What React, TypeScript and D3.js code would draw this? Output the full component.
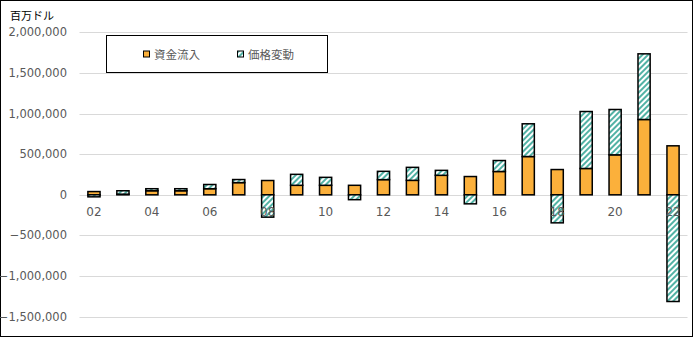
import React from "react";
import * as d3 from "d3";

const years = ["02","03","04","05","06","07","08","09","10","11","12","13","14","15","16","17","18","19","20","21","22"];
const inflow = [40000, 8000, 50000, 50000, 75000, 150000, 176000, 117000, 117000, 117000, 187000, 178000, 240000, 225000, 287000, 471000, 311000, 324000, 492000, 927000, 603000];
const priceChange = [-25000, 42000, 25000, 25000, 52000, 38000, -275000, 135000, 98000, -60000, 102000, 160000, 61000, -111000, 135000, 403000, -345000, 701000, 558000, 808000, -1313000];
const yTicks = [2000000, 1500000, 1000000, 500000, 0, -500000, -1000000, -1500000];
const seriesNames = ["資金流入", "価格変動"];
const unitLabel = "百万ドル";

const W = 693, H = 337;
const plotLeft = 79.5, plotRight = 687.5;
const ORANGE = "#fbb03b";
const TEAL = "#52b2a5";

export default function App() {
  const x = d3.scaleBand<string>().domain(years).range([plotLeft, plotRight]).paddingInner(0.58).paddingOuter(0.29);
  const y = d3.scaleLinear().domain([-1500000, 2000000]).range([316.7, 32.3]);
  const rows = years.map((yr, i) => ({ yr, inflow: inflow[i], price: priceChange[i] }));
  const stack = d3.stack<any>().keys(["inflow", "price"]).offset(d3.stackOffsetDiverging);
  const series = stack(rows);
  const fmt = d3.format(",");
  const numFont = "'DejaVu Sans', sans-serif";
  const jpFont = "'Noto Sans CJK JP', sans-serif";

  return (
    <svg width={W} height={H} style={{ position: "absolute", left: 0, top: 0, background: "#fff" }}>
      <defs>
        <pattern id="hatch" patternUnits="userSpaceOnUse" width={4} height={4} patternTransform="rotate(45)">
          <rect x={0} y={0} width={4} height={4} fill="#fff" />
          <rect x={0} y={0} width={2} height={4} fill={TEAL} />
        </pattern>
      </defs>
      <rect x={0.5} y={0.5} width={W - 1} height={H - 1} fill="#fff" stroke="#000" strokeWidth={1} />
      <text x={10} y={20} fontSize={11} fontFamily={jpFont} fill="#000">{unitLabel}</text>
      {yTicks.map(t => (
        <g key={t}>
          <line x1={plotLeft} x2={plotRight} y1={Math.round(y(t)) + 0.5} y2={Math.round(y(t)) + 0.5} stroke="#d9d9d9" strokeWidth={1} />
          <text x={67} y={y(t)} dy="0.35em" textAnchor="end" fontSize={11.5} fontFamily={numFont} fill="#595959">{fmt(t)}</text>
        </g>
      ))}
      {series.map((s, si) => (
        <g key={si}>
          {s.map((d, i) => {
            const y0 = y(Math.max(d[0], d[1]));
            const y1 = y(Math.min(d[0], d[1]));
            if (Math.abs(y1 - y0) < 0.01) return null;
            return (
              <rect key={i} x={x(years[i])} y={y0} width={x.bandwidth()} height={y1 - y0}
                fill={si === 0 ? ORANGE : "url(#hatch)"} stroke="#000" strokeWidth={1.5} />
            );
          })}
        </g>
      ))}
      {years.map((yr, i) => i % 2 === 0 ? (
        <text key={yr} x={(x(yr) as number) + x.bandwidth() / 2} y={216} textAnchor="middle" fontSize={12} fontFamily={numFont} fill="#595959">{yr}</text>
      ) : null)}
      <rect x={106.5} y={35.5} width={221} height={37} fill="#fff" stroke="#000" strokeWidth={1} />
      <rect x={143.5} y={51} width={6} height={6} fill={ORANGE} stroke="#000" strokeWidth={1} />
      <text x={154} y={54.5} dy="0.35em" fontSize={11.5} fontFamily={jpFont} fill="#595959">{seriesNames[0]}</text>
      <rect x={237.5} y={51} width={6} height={6} fill="url(#hatch)" stroke="#000" strokeWidth={1} />
      <text x={248} y={54.5} dy="0.35em" fontSize={11.5} fontFamily={jpFont} fill="#595959">{seriesNames[1]}</text>
    </svg>
  );
}
